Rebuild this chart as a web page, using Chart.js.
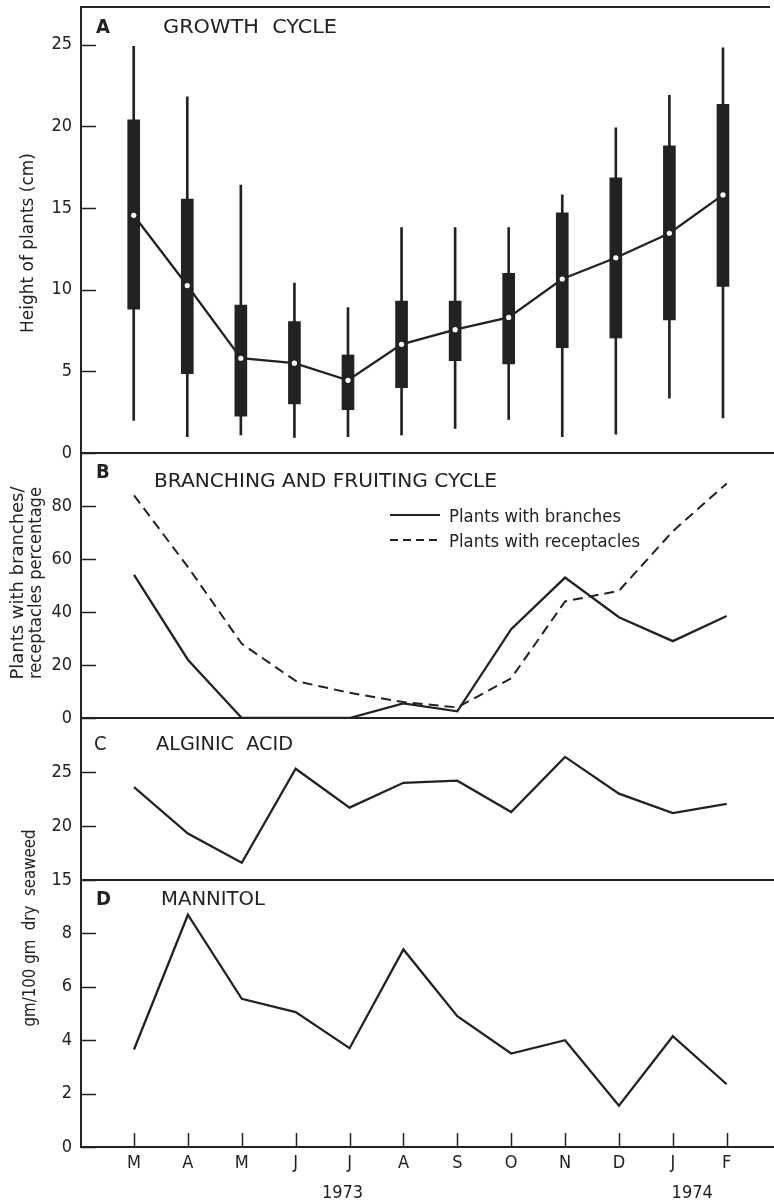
<!DOCTYPE html>
<html>
<head>
<meta charset="utf-8">
<script src="https://cdn.jsdelivr.net/npm/chart.js@4.4.0/dist/chart.umd.min.js"></script>
<style>
  html, body { margin: 0; padding: 0; background: #fff; }
  #wrap { position: relative; width: 774px; height: 1200px; }
  #wrap canvas { position: absolute; left: 0; top: 0; }
</style>
</head>
<body>
<div id="wrap">
  <canvas id="growth" width="774" height="1200"></canvas>
  <canvas id="branching" width="774" height="1200"></canvas>
  <canvas id="alginic" width="774" height="1200"></canvas>
  <canvas id="mannitol" width="774" height="1200"></canvas>
</div>
<script>
// months Mar 1973 .. Feb 1974
const months = ["M", "A", "M", "J", "J", "A", "S", "O", "N", "D", "J", "F"];

// A - height of plants (cm)
const heightMax       = [24.9, 21.8, 16.4, 10.4, 8.9, 13.8, 13.8, 13.8, 15.8, 19.9, 21.9, 24.8];
const heightUpper     = [20.4, 15.55, 9.05, 8.05, 6.0, 9.3, 9.3, 11.0, 14.7, 16.85, 18.8, 21.35];
const heightMean      = [14.55, 10.25, 5.8, 5.5, 4.45, 6.65, 7.55, 8.3, 10.65, 11.95, 13.45, 15.8];
const heightLower     = [8.8, 4.85, 2.25, 3.0, 2.65, 4.0, 5.65, 5.45, 6.45, 7.05, 8.15, 10.2];
const heightMin       = [2.0, 1.0, 1.1, 0.95, 1.0, 1.1, 1.5, 2.05, 1.0, 1.15, 3.35, 2.15];

// B - percentage of plants
const withBranches    = [54, 22, 0, 0, 0, 5.5, 2.5, 33.5, 53, 38, 29, 38.5];
const withReceptacles = [84, 57, 28, 14, 9.5, 6, 4, 15, 44, 48, 70.5, 88.5];

// C, D - gm/100 gm dry seaweed
const alginicAcid     = [23.6, 19.3, 16.6, 25.3, 21.7, 24.0, 24.2, 21.3, 26.4, 23.0, 21.2, 22.05];
const mannitol        = [3.65, 8.7, 5.55, 5.05, 3.7, 7.4, 4.9, 3.5, 4.0, 1.55, 4.15, 2.35];

const heightTicks  = [0, 5, 10, 15, 20, 25];
const percentTicks = [0, 20, 40, 60, 80];
const alginicTicks = [15, 20, 25];
const mannitolTicks = [0, 2, 4, 6, 8];

const INK = "#222";
const FONT = '"DejaVu Sans Condensed", "Liberation Sans Narrow", "DejaVu Sans", sans-serif';

const points = (vals) => vals.map((v, i) => ({ x: i, y: v }));
const ranges = (lo, hi) => lo.map((v, i) => ({ x: i, y: [v, hi[i]] }));

// draw text squeezed/stretched to a given width
function drawText(ctx, t) {
  ctx.save();
  ctx.font = (t.bold ? "bold " : "") + t.size + "px " + FONT;
  ctx.fillStyle = INK;
  ctx.textBaseline = t.baseline || "alphabetic";
  ctx.textAlign = t.align || "left";
  ctx.translate(t.x, t.y);
  if (t.rotate) ctx.rotate(t.rotate);
  if (t.width) {
    const w = ctx.measureText(t.text).width;
    ctx.scale(t.width / w, 1);
  }
  ctx.fillText(t.text, 0, 0);
  ctx.restore();
}

const panelDecor = {
  id: "panelDecor",
  afterDatasetsDraw(chart, args, opts) {
    const { ctx, chartArea } = chart;
    const { left, right, top, bottom } = chartArea;
    const yS = chart.scales.y;
    const xS = chart.scales.x;
    ctx.save();
    ctx.strokeStyle = INK;
    ctx.lineWidth = 2;
    ctx.beginPath();
    ctx.moveTo(left, top);
    ctx.lineTo(right, top);
    ctx.moveTo(left, bottom);
    ctx.lineTo(right, bottom);
    ctx.stroke();

    // tick marks point into the plot
    ctx.lineWidth = 1.5;
    ctx.beginPath();
    yS.ticks.forEach((t) => {
      const py = Math.round(yS.getPixelForValue(t.value)) + 0.5;
      ctx.moveTo(left, py);
      ctx.lineTo(left + 15, py);
    });
    if (opts.xTicks) {
      xS.ticks.forEach((t) => {
        const px = Math.round(xS.getPixelForValue(t.value)) + 0.5;
        ctx.moveTo(px, bottom);
        ctx.lineTo(px, bottom - 14);
      });
    }
    ctx.stroke();

    if (opts.legend) {
      ctx.lineWidth = 2;
      opts.legend.forEach((l) => {
        ctx.setLineDash(l.dash || []);
        ctx.beginPath();
        ctx.moveTo(390, l.y);
        ctx.lineTo(440, l.y);
        ctx.stroke();
        ctx.setLineDash([]);
        drawText(ctx, { text: l.text, x: 449, y: l.y + 2, size: 18, baseline: "middle", width: l.width });
      });
    }

    if (opts.years) {
      opts.years.forEach((yr) => {
        drawText(ctx, { text: yr.text, x: xS.getPixelForValue(yr.at), y: 1198, size: 18, align: "center" });
      });
    }

    (opts.texts || []).forEach((t) => drawText(ctx, t));
    ctx.restore();
  }
};

function makePanel(id, cfg) {
  const showX = !!cfg.showX;
  const xAxis = {
    type: "linear",
    min: -0.984,
    max: 11.878,
    offset: false,
    display: showX,
    grid: { display: false, drawTicks: false },
    border: { display: false },
    afterBuildTicks: (s) => { s.ticks = months.map((m, i) => ({ value: i })); },
    ticks: {
      callback: (v) => months[v],
      color: INK,
      font: { family: FONT, size: 18 },
      padding: 6,
      maxRotation: 0,
      autoSkip: false
    }
  };
  if (showX) {
    xAxis.afterFit = (s) => { s.height = 53; s.paddingLeft = 0; s.paddingRight = 0; };
  }

  return new Chart(document.getElementById(id), {
    type: "bar",
    data: { datasets: cfg.datasets },
    options: {
      responsive: false,
      animation: false,
      events: [],
      devicePixelRatio: 1,
      layout: { padding: { top: cfg.top, bottom: showX ? 0 : 1200 - cfg.bottom, left: 0, right: 0 } },
      scales: {
        x: xAxis,
        y: {
          type: "linear",
          min: cfg.min,
          max: cfg.max,
          grid: { display: false, drawTicks: false },
          border: { display: true, color: INK, width: 2 },
          afterBuildTicks: (s) => { s.ticks = cfg.ticks.map((v) => ({ value: v })); },
          ticks: { color: INK, font: { family: FONT, size: 18 }, padding: 9 },
          afterFit: (s) => { s.width = 81; s.paddingTop = 0; s.paddingBottom = 0; }
        }
      },
      plugins: {
        legend: { display: false },
        tooltip: { enabled: false },
        panelDecor: cfg.decor
      }
    },
    plugins: [panelDecor]
  });
}

const lineStyle = {
  type: "line",
  borderColor: INK,
  borderWidth: 2.3,
  pointRadius: 0,
  tension: 0,
  fill: false
};

makePanel("growth", {
  top: 7, bottom: 453, min: 0, max: 27.3, ticks: heightTicks,
  datasets: [
    { type: "bar", data: ranges(heightMin, heightMax), backgroundColor: INK, barThickness: 2, grouped: false, order: 3 },
    { type: "bar", data: ranges(heightLower, heightUpper), backgroundColor: INK, barThickness: 12, grouped: false, order: 2 },
    { ...lineStyle, data: points(heightMean), pointRadius: 2.6, pointBackgroundColor: "#fff", pointBorderWidth: 0, order: 1 }
  ],
  decor: {
    texts: [
      { text: "A", x: 96, y: 33, size: 20, bold: true },
      { text: "GROWTH  CYCLE", x: 163, y: 33, size: 19, width: 174 },
      { text: "Height of plants (cm)", x: 28, y: 243, size: 18, align: "center", baseline: "middle", rotate: -Math.PI / 2, width: 180 }
    ]
  }
});

makePanel("branching", {
  top: 453, bottom: 718, min: 0, max: 100, ticks: percentTicks,
  datasets: [
    { ...lineStyle, data: points(withBranches) },
    { ...lineStyle, data: points(withReceptacles), borderWidth: 2, borderDash: [10, 6] }
  ],
  decor: {
    legend: [
      { text: "Plants with branches", y: 515, width: 172 },
      { text: "Plants with receptacles", y: 540, dash: [8, 5], width: 191 }
    ],
    texts: [
      { text: "B", x: 96, y: 478, size: 20, bold: true },
      { text: "BRANCHING AND FRUITING CYCLE", x: 154, y: 487, size: 19, width: 343 },
      { text: "Plants with branches/", x: 18, y: 583, size: 18, align: "center", baseline: "middle", rotate: -Math.PI / 2, width: 193 },
      { text: "receptacles percentage", x: 36, y: 583, size: 18, align: "center", baseline: "middle", rotate: -Math.PI / 2, width: 192 }
    ]
  }
});

makePanel("alginic", {
  top: 718, bottom: 880, min: 15, max: 30, ticks: alginicTicks,
  datasets: [
    { ...lineStyle, data: points(alginicAcid) }
  ],
  decor: {
    texts: [
      { text: "C", x: 94, y: 750, size: 20 },
      { text: "ALGINIC  ACID", x: 156, y: 750, size: 19, width: 137 },
      { text: "gm/100 gm  dry  seaweed", x: 30, y: 928, size: 18, align: "center", baseline: "middle", rotate: -Math.PI / 2, width: 197 }
    ]
  }
});

makePanel("mannitol", {
  top: 880, bottom: 1147, min: 0, max: 10, ticks: mannitolTicks, showX: true,
  datasets: [
    { ...lineStyle, data: points(mannitol) }
  ],
  decor: {
    xTicks: true,
    years: [{ text: "1973", at: 3.87 }, { text: "1974", at: 10.36 }],
    texts: [
      { text: "D", x: 96, y: 905, size: 20, bold: true },
      { text: "MANNITOL", x: 161, y: 905, size: 19, width: 104 }
    ]
  }
});
</script>
</body>
</html>
